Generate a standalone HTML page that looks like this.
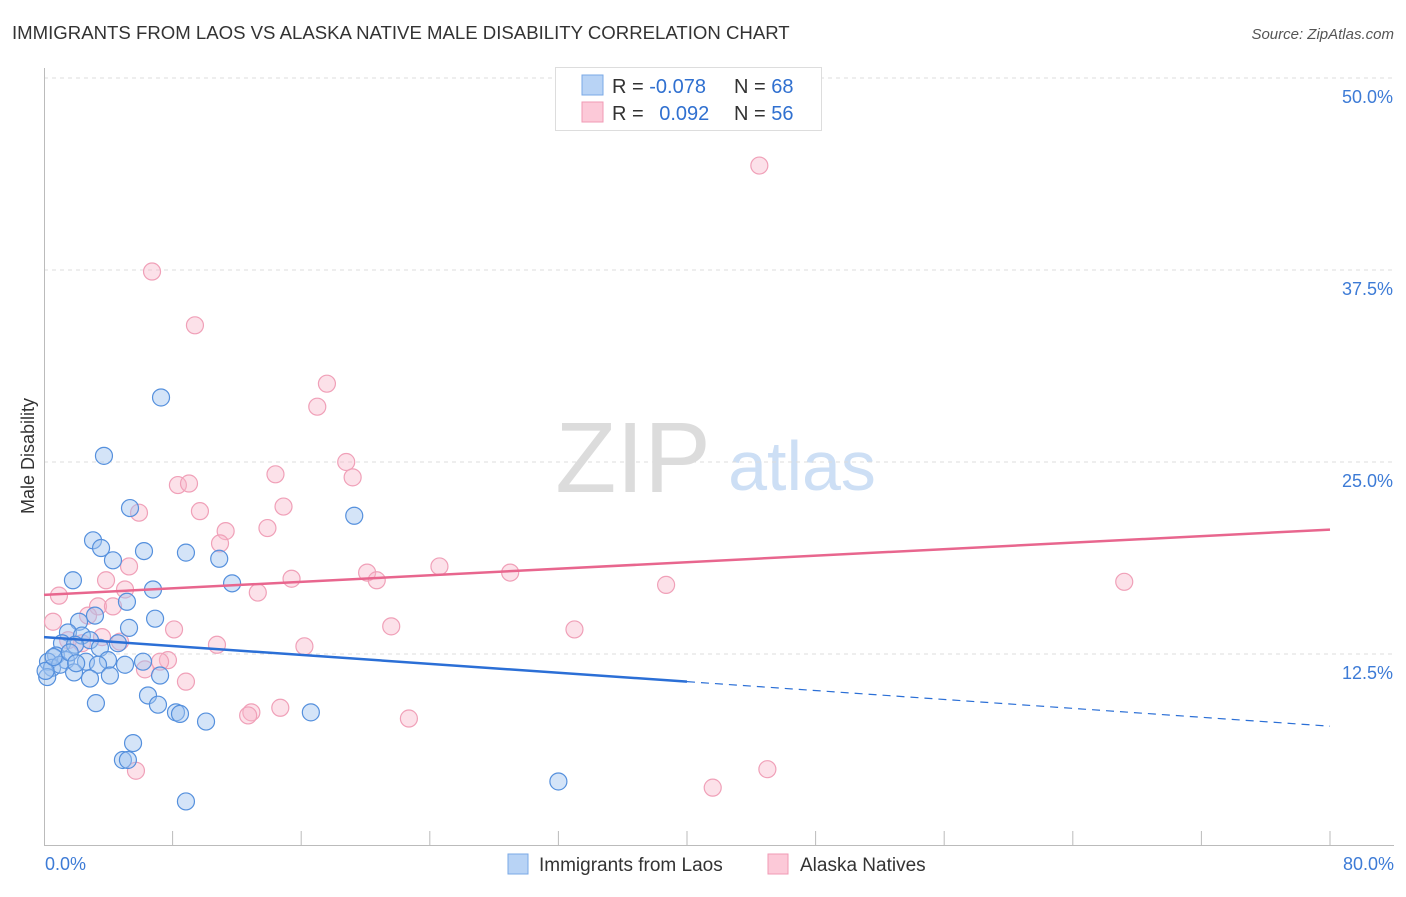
<!DOCTYPE html>
<html><head><meta charset="utf-8"><style>
body{margin:0;background:#fff;font-family:"Liberation Sans",sans-serif;}
svg text{font-family:"Liberation Sans",sans-serif;}
</style></head><body>
<svg id="chart" width="1406" height="892" xmlns="http://www.w3.org/2000/svg">
<text x="12" y="39" font-size="18.6" fill="#333">IMMIGRANTS FROM LAOS VS ALASKA NATIVE MALE DISABILITY CORRELATION CHART</text>
<text x="1394" y="39" font-size="15" fill="#555" text-anchor="end" font-style="italic">Source: ZipAtlas.com</text>
<text transform="translate(34,456) rotate(-90)" font-size="18" fill="#333" text-anchor="middle">Male Disability</text>
<g>
<text x="633" y="492" font-size="100" fill="#dcdcdc" font-family="Liberation Serif" text-anchor="middle">ZIP</text>
<text x="802" y="490" font-size="70" fill="#cddff5" text-anchor="middle">atlas</text>
</g>
<g id="grid"></g><g id="axes"></g><g id="pts"></g><g id="trends"></g>
<g>
<rect x="555.5" y="67.5" width="266" height="63" fill="#fff" stroke="#ddd"/>
<rect x="582" y="75" width="21" height="20" fill="#b8d3f5" stroke="#7aa8e6"/>
<rect x="582" y="102" width="21" height="20" fill="#fcc9d8" stroke="#f09ab5"/>
<text x="612" y="93" font-size="20" fill="#333">R = <tspan fill="#3070d0">-0.078</tspan></text>
<text x="734" y="93" font-size="20" fill="#333">N = <tspan fill="#3070d0">68</tspan></text>
<text x="612" y="120" font-size="20" fill="#333">R = <tspan fill="#3070d0" dx="10">0.092</tspan></text>
<text x="734" y="120" font-size="20" fill="#333">N = <tspan fill="#3070d0">56</tspan></text>
</g>
<g>
<rect x="508" y="854" width="20" height="20" fill="#b8d3f5" stroke="#7aa8e6"/>
<text x="539" y="871" font-size="19" fill="#333">Immigrants from Laos</text>
<rect x="768" y="854" width="20" height="20" fill="#fcc9d8" stroke="#f09ab5"/>
<text x="800" y="871" font-size="19" fill="#333">Alaska Natives</text>
</g>
</svg>
<script>
const blueX=[7.28,3.73,5.35,19.3,3.05,3.55,6.22,8.83,4.29,10.9,1.8,11.7,6.78,5.16,3.17,6.91,2.18,5.29,1.49,2.36,2.86,1.12,1.93,3.48,4.6,0.75,1.37,0.25,0.5,1.0,2.61,3.98,6.16,5.04,3.36,1.87,2.86,4.1,7.22,6.47,3.23,7.09,8.21,8.46,10.08,16.6,5.54,4.91,5.22,32.0,8.83,0.2,0.1,0.6,1.6,2.0];
const blueY=[29.2,25.4,22.0,21.5,19.9,19.4,19.2,19.1,18.6,18.7,17.3,17.1,16.7,15.9,15.0,14.8,14.6,14.2,13.9,13.7,13.4,13.2,13.1,12.9,13.2,12.4,12.1,12.0,11.6,11.8,12.0,12.1,12.0,11.8,11.8,11.3,10.9,11.1,11.1,9.8,9.3,9.2,8.7,8.6,8.1,8.7,6.7,5.6,5.6,4.2,2.9,11.0,11.4,12.3,12.6,11.9];
const pinkX=[44.5,6.72,9.39,17.6,17.0,18.8,19.2,14.4,8.33,9.02,5.91,9.7,14.9,11.3,13.9,10.95,5.29,24.6,29.0,20.1,20.7,3.86,15.4,38.7,67.2,5.04,13.3,0.93,3.36,4.29,2.74,0.56,8.09,21.6,33.0,3.61,4.73,10.76,16.2,2.36,7.71,7.22,6.28,8.83,14.7,12.9,12.7,22.7,5.72,41.6,45.0,1.5];
const pinkY=[44.3,37.4,33.9,30.1,28.6,25.0,24.0,24.2,23.5,23.6,21.7,21.8,22.1,20.5,20.7,19.7,18.2,18.2,17.8,17.8,17.3,17.3,17.4,17.0,17.2,16.7,16.5,16.3,15.6,15.6,15.0,14.6,14.1,14.3,14.1,13.6,13.3,13.1,13.0,13.2,12.1,12.0,11.5,10.7,9.0,8.7,8.5,8.3,4.9,3.8,5.0,13.4];
const yTicks=[12.5,25.0,37.5,50.0];
const yTickLabels=["12.5%","25.0%","37.5%","50.0%"];
const blueTrend=[13.6,7.8]; const blueSolidEnd=40;
const pinkTrend=[16.35,20.6];
const NS="http://www.w3.org/2000/svg";
const sx=v=>44+v/80*1286, sy=v=>846-v/12.5*192;
function mk(t,a,p){const e=document.createElementNS(NS,t);for(const k in a)e.setAttribute(k,a[k]);p.appendChild(e);return e;}
const grid=document.getElementById('grid'),axes=document.getElementById('axes'),pts=document.getElementById('pts'),tr=document.getElementById('trends');
yTicks.forEach((v,i)=>{
 const l=mk('line',{x1:44,x2:1394,y1:sy(v),y2:sy(v),stroke:'#ddd','stroke-dasharray':'4,4'},grid);
 
 
 const t=mk('text',{x:1393,y:sy(v)+25,'font-size':18,fill:'#3d7bd6','text-anchor':'end'},axes);t.textContent=yTickLabels[i];
 
 
});
const ya=mk('line',{x1:44.5,x2:44.5,y1:68,y2:846,stroke:'#bbb'},axes);


const xa=mk('line',{x1:44,x2:1394,y1:845.5,y2:845.5,stroke:'#bbb'},axes);


for(let i=1;i<=10;i++){const x=sx(i*8);const tk=mk('line',{x1:x,x2:x,y1:831,y2:846,stroke:'#bbb'},axes);
 
 }
let t0=mk('text',{x:45,y:870,'font-size':18,fill:'#3d7bd6'},axes);t0.textContent='0.0%';


let t1=mk('text',{x:1394,y:870,'font-size':18,fill:'#3d7bd6','text-anchor':'end'},axes);t1.textContent='80.0%';


pinkX.forEach((v,i)=>{const c=mk('circle',{cx:sx(v),cy:sy(pinkY[i]),r:8.5,fill:'rgba(248,180,200,0.4)',stroke:'#f0a0b8','stroke-width':1.2},pts);
 
 });
blueX.forEach((v,i)=>{const c=mk('circle',{cx:sx(v),cy:sy(blueY[i]),r:8.5,fill:'rgba(160,195,240,0.45)',stroke:'#5590dd','stroke-width':1.2},pts);
 
 });
const by=x=>blueTrend[0]+(blueTrend[1]-blueTrend[0])*x/80;
let b1=mk('line',{x1:sx(0),y1:sy(by(0)),x2:sx(blueSolidEnd),y2:sy(by(blueSolidEnd)),stroke:'#2b6fd6','stroke-width':2.5},tr);


let b2=mk('line',{x1:sx(blueSolidEnd),y1:sy(by(blueSolidEnd)),x2:sx(80),y2:sy(by(80)),stroke:'#2b6fd6','stroke-width':1.2,'stroke-dasharray':'8,6'},tr);


let p1=mk('line',{x1:sx(0),y1:sy(pinkTrend[0]),x2:sx(80),y2:sy(pinkTrend[1]),stroke:'#e8668e','stroke-width':2.5},tr);


</script>
</body></html>
